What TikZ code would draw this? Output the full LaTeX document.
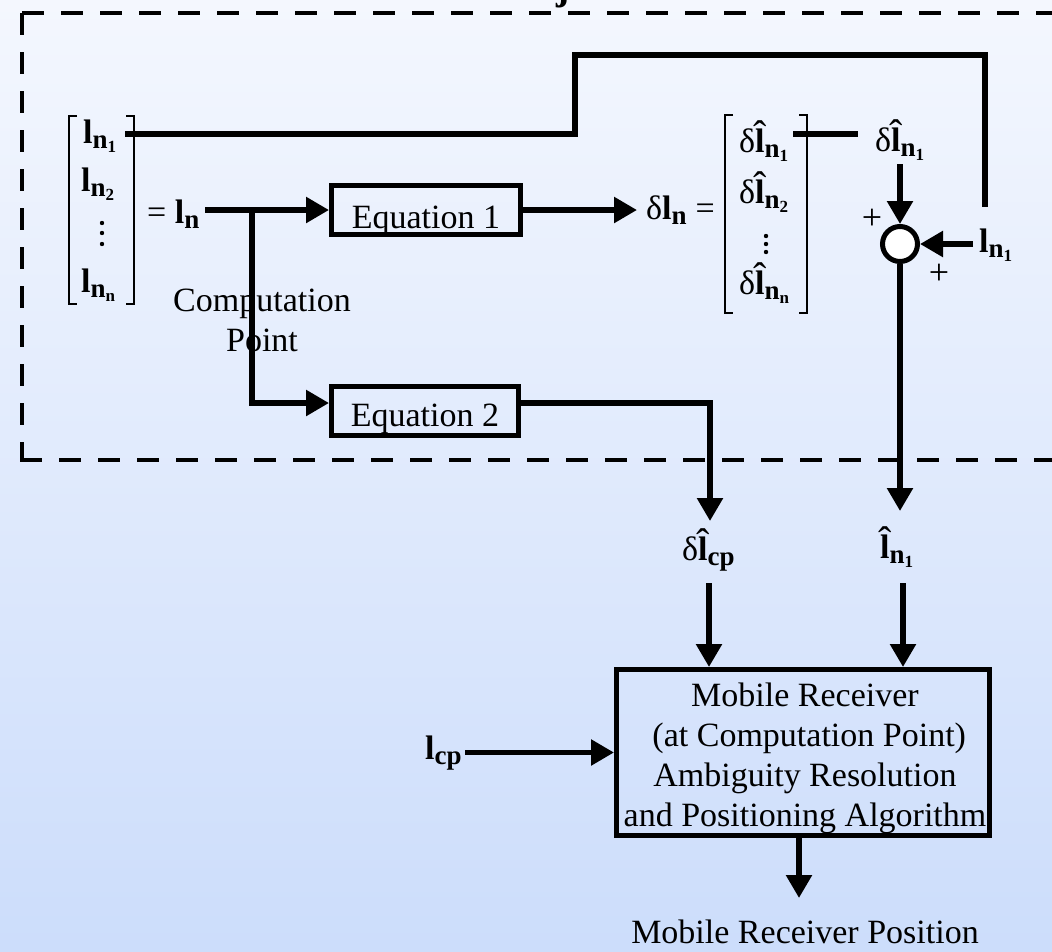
\documentclass[tikz,border=0pt]{standalone}
\usepackage{fix-cm}
\usepackage{amsmath}
\usepackage{fontspec}
\setmainfont{Liberation Serif}
\usetikzlibrary{arrows.meta}
\DeclareMathSizes{34}{34}{27}{17}
\definecolor{bgtop}{RGB}{244,247,254}
\definecolor{bgbot}{RGB}{204,221,251}
% bold observation symbols; the estimate carries a thin circumflex
\newcommand{\symL}{\text{\bfseries l}}
\newcommand{\symH}{\text{\ooalign{\bfseries l\cr\hidewidth\raisebox{0.09em}{\normalfont\fontsize{40}{40}\selectfont ˆ}\hidewidth\cr}}}
\newcommand{\subN}[1]{\text{\bfseries n}_{\text{\bfseries #1}}}
\begin{document}
\begin{tikzpicture}[x=1pt,y=-1pt,
  every node/.style={font=\fontsize{34}{40}\selectfont, inner sep=0pt},
  wire/.style={line width=5.5pt},
  arr/.style={wire,-{Triangle[length=23pt,width=25pt]}},
  block/.style={draw,line width=5pt,rectangle,minimum width=189pt,minimum height=49pt,text depth=0pt},
  brk/.style={line width=2pt},
  frame/.style={line width=4pt,dash pattern=on 22pt off 17pt},
  plus/.style={font=\fontsize{36}{40}\selectfont},
]
\clip (0,0) rectangle (1052,951);
\shade[top color=bgtop,bottom color=bgbot] (0,0) rectangle (1052,951);

% heading, mostly above the page
\node[anchor=base,font=\fontsize{40}{48}\selectfont\bfseries] (heading) at (563,-1) {j};

% dashed frame of the reference-station part
\draw[frame] (22,13) -- (1060,13);
\draw[frame] (22,13) -- (22,458);
\draw[frame] (20,460) -- (1060,460);

% vector of observations
\draw[brk] (77,116) -- (69,116) -- (69,304) -- (77,304);
\draw[brk] (126,116) -- (134,116) -- (134,304) -- (126,304);
\node[anchor=base west] (ln1) at (83,143) {$\symL_{\subN{1}}$};
\node[anchor=base west] (ln2) at (81,191) {$\symL_{\subN{2}}$};
\node[anchor=base west] (lnn) at (81,292) {$\symL_{\subN{n}}$};
\foreach \y in {223,233,244} \fill (102,\y) circle (2.2pt);
\node[anchor=base west] (lnvec) at (147,223) {= $\symL_{\text{\bfseries n}}$};

\node[align=center] (cpt) at (262,320) {Computation\\Point};

% equation blocks
\node[block,text height=36pt] (eq1) at (426,210) {Equation 1};
\node[block,text height=30pt,minimum width=187pt] (eq2) at (425,411) {Equation 2};

\coordinate (lnout) at (205,210);
\coordinate (split) at (252,210);
\draw[arr] (lnout) -- (eq1.west);
\draw[arr] (split) |- ([yshift=8pt]eq2.west);

\coordinate (dltip) at (637,210);
\draw[arr] (eq1.east) -- (dltip);
\node[anchor=base west] (dlvec) at (646,219) {δ$\symL_{\text{\bfseries n}}$ =};

% vector of corrections
\draw[brk] (733,115) -- (725,115) -- (725,313) -- (733,313);
\draw[brk] (799,115) -- (807,115) -- (807,313) -- (799,313);
\node[anchor=base west] (dl1) at (739,152) {δ$\symH_{\subN{1}}$};
\node[anchor=base west] (dl2) at (739,203) {δ$\symH_{\subN{2}}$};
\node[anchor=base west] (dlnn) at (739,294) {δ$\symH_{\subN{n}}$};
\foreach \y in {236,244,252} \fill (766,\y) circle (2.2pt);

\coordinate (dtapL) at (793,134);
\coordinate (dtapR) at (858,134);
\draw[wire] (dtapL) -- (dtapR);
\node[anchor=base west] (dl1out) at (875,151) {δ$\symH_{\subN{1}}$};

% summing junction
\coordinate (tapL) at (125,134);
\coordinate (jog) at (575,55);
\coordinate (wireend) at (985,207);
\draw[wire] (tapL) -| (jog) -| (wireend);

\node[circle,draw,line width=5pt,fill=white,minimum size=35pt] (sum) at (900,244) {};
\coordinate (sumtop) at (900,164);
\draw[arr] (sumtop) -- (sum.north);
\node[plus] (p1) at (872,219) {+};
\node[plus] (p2) at (939,274) {+};
\node[anchor=base west] (ln1r) at (979,252) {$\symL_{\subN{1}}$};
\coordinate (lrin) at (973,244);
\draw[arr] (lrin) -- (sum.east);

\coordinate (hattip) at (900,511);
\draw[arr] (sum.south) -- (hattip);
\node[anchor=base west] (lhat) at (880,558) {$\symH_{\subN{1}}$};

\coordinate (cptip) at (710,521);
\draw[arr] ([yshift=8pt]eq2.east) -| (cptip);
\node[anchor=base west] (dcp) at (682,560) {δ$\symH_{\text{\bfseries cp}}$};

% mobile receiver
\node[draw,line width=5pt,minimum width=373pt,minimum height=166pt] (mr) at (803,752.5) {};
\node[align=center] (mrtext) at (805,758) {Mobile Receiver\\\ (at Computation Point)\\Ambiguity Resolution\\and Positioning Algorithm};

\coordinate (cpin) at (709,583);
\draw[arr] (cpin) -- (cpin |- mr.north);
\coordinate (hatin) at (903,583);
\draw[arr] (hatin) -- (hatin |- mr.north);

\node[anchor=base west] (lcp) at (425,759) {$\symL_{\text{\bfseries cp}}$};
\coordinate (lcpout) at (465,752.5);
\draw[arr] (lcpout) -- (mr.west);

\coordinate (outtip) at (799,898);
\draw[arr] (outtip |- mr.south) -- (outtip);
\node[anchor=base] (pos) at (805,943) {Mobile Receiver Position};
\end{tikzpicture}
\end{document}
